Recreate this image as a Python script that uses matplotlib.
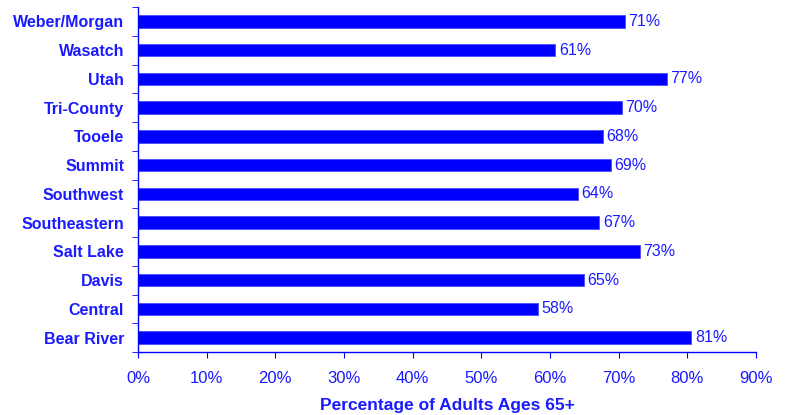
import numpy as np
import matplotlib.pyplot as plt
from matplotlib.ticker import PercentFormatter

plt.rcParams['font.family'] = ['Liberation Sans', 'DejaVu Sans']

regions = ['Weber/Morgan', 'Wasatch', 'Utah', 'Tri-County', 'Tooele', 'Summit',
           'Southwest', 'Southeastern', 'Salt Lake', 'Davis', 'Central', 'Bear River']
pct = [70.9, 60.8, 77.0, 70.5, 67.7, 68.9, 64.1, 67.2, 73.1, 64.9, 58.2, 80.6]
labels = ['71%', '61%', '77%', '70%', '68%', '69%', '64%', '67%', '73%', '65%', '58%', '81%']

blue = '#0000ff'
txt = '#1a1aff'

fig = plt.figure(figsize=(7.86, 4.15), dpi=100)
ax = fig.add_axes([0.1756, 0.1518, 0.7862, 0.8313])

y = np.arange(len(regions))[::-1]
ax.barh(y, pct, height=0.43, color=blue, edgecolor='#4a4aff', linewidth=0.6)

for yi, v, lab in zip(y, pct, labels):
    ax.text(v + 0.5, yi, lab, va='center', ha='left', fontsize=11.5, color=txt)

ax.set_xlim(0, 90)
ax.set_ylim(-0.5, len(regions) - 0.5)
ax.set_xticks(np.arange(0, 91, 10))
ax.xaxis.set_major_formatter(PercentFormatter(decimals=0))
ax.set_yticks(y)
ax.set_yticklabels(regions, fontweight='bold', fontsize=11.5, color=txt)
ax.set_yticks(np.arange(-0.5, len(regions), 1), minor=True)
ax.tick_params(axis='y', which='major', length=0, pad=10)
ax.tick_params(axis='y', which='minor', length=4, color=blue, direction='out')
ax.tick_params(axis='x', length=4, color=blue, labelsize=12, labelcolor=txt, pad=10)

for s in ['top', 'right']:
    ax.spines[s].set_visible(False)
for s in ['left', 'bottom']:
    ax.spines[s].set_color(blue)
    ax.spines[s].set_linewidth(1)

ax.set_xlabel('Percentage of Adults Ages 65+', fontweight='bold', fontsize=12.5,
              color=txt, labelpad=8)

fig.savefig('out.png', dpi=100)
